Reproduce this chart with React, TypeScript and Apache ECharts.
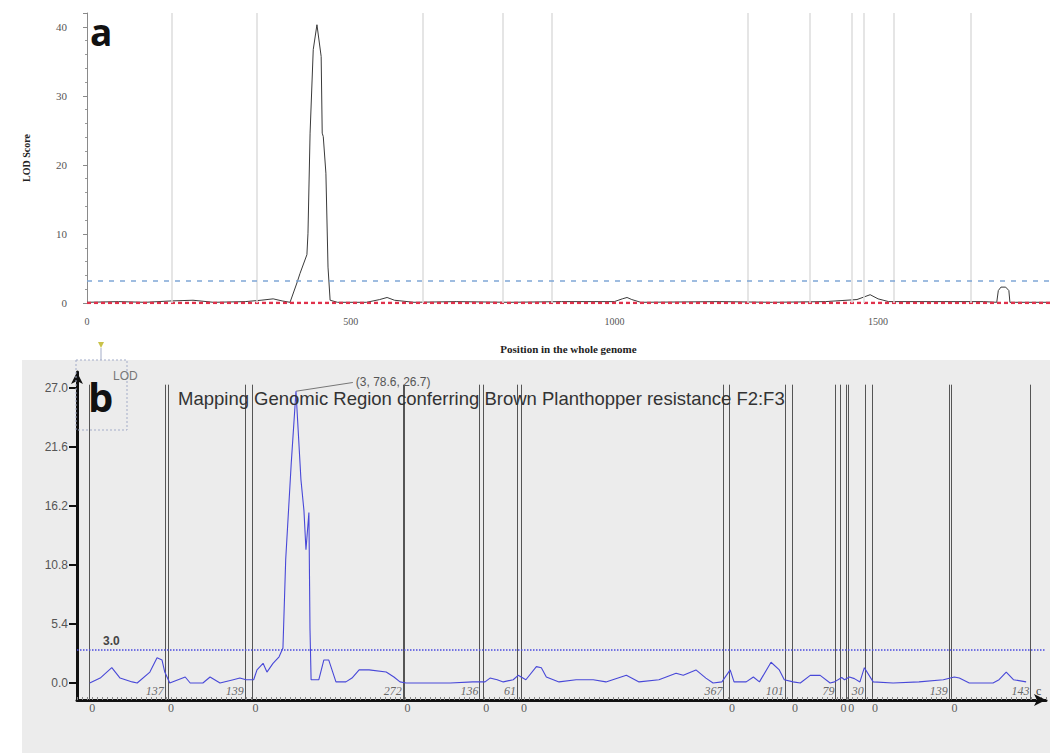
import React, { useEffect, useRef } from "react";
import * as echarts from "echarts";

// ---------- Panel a ----------
const aXTicks = [0, 500, 1000, 1500];
const aXMax = 1826;
const aYMax = 42;
const aBoundaries = [161, 322, 637, 789, 882, 1252, 1371, 1451, 1472, 1529, 1675];
const aThreshold = 3.2;
const aLodPos = [0, 60, 110, 160, 201, 240, 300, 330, 353, 370, 385, 398, 404, 417, 419, 423, 429, 436, 444, 446, 448, 453, 457, 461, 475, 530, 555, 569, 583, 620, 700, 800, 900, 1000, 1015, 1024, 1033, 1050, 1200, 1300, 1400, 1460, 1485, 1500, 1520, 1600, 1700, 1725, 1728, 1733, 1742, 1748, 1750, 1760, 1826];
const aLodVal = [0.1, 0.2, 0.1, 0.3, 0.4, 0.1, 0.2, 0.4, 0.6, 0.3, 0.1, 2.9, 4.3, 7.0, 10.1, 24.6, 36.7, 40.3, 35.7, 24.6, 24.1, 18.8, 5.2, 0.4, 0.1, 0.1, 0.5, 0.8, 0.4, 0.1, 0.2, 0.1, 0.2, 0.2, 0.6, 0.8, 0.5, 0.1, 0.2, 0.1, 0.2, 0.5, 1.2, 0.6, 0.2, 0.2, 0.2, 0.1, 1.8, 2.3, 2.3, 1.8, 0.1, 0.1, 0.1];

// ---------- Panel b ----------
const bYTicks = [0, 5.4, 10.8, 16.2, 21.6, 27.0];
const bYMin = -1.556;
const bYMax = 28.46;
const bXMax = 1755;
const chromStarts = [22, 165, 318, 593, 736, 804, 1181, 1295, 1383, 1397, 1440, 1584];
const chromLengths = [137, 139, 272, 136, 61, 367, 101, 79, 10, 30, 139, 143];
const unlabeledChrom = [8];
const bThreshold = 3.0;
const peakChrom = 3;
const peakPos = 78.6;
const peakLod = 26.7;
const bLodPos = [
  23, 42, 63, 78, 100, 109, 132, 145, 154, 159,
  168, 196, 205, 228, 241, 259, 283, 295, 306,
  320, 326, 337, 344, 355, 366, 373, 378, 388, 396.6, 405.6, 411, 414.7, 420, 422, 424, 438, 447, 456, 469, 487, 498, 511, 529, 560, 574, 585,
  596, 616, 676, 717,
  739, 748, 761, 772, 790, 799,
  813, 832, 841, 850, 873, 904, 935, 958, 995, 1018, 1054, 1085, 1098, 1121, 1139, 1152, 1168,
  1183, 1190, 1212, 1225, 1236, 1257, 1272, 1281,
  1297, 1310, 1328, 1346, 1364, 1372,
  1385, 1390,
  1399, 1408, 1418, 1426,
  1442, 1478, 1525, 1569,
  1589, 1598, 1616, 1659, 1670, 1683, 1696, 1719,
];
const bLodVal = [
  0, 0.45, 1.4, 0.45, 0.1, 0, 1.0, 2.3, 2.1, 1.0,
  0, 0.55, 0, 0, 0.55, 0, 0.3, 0.45, 0.3,
  0.3, 1.2, 1.8, 1.0, 1.8, 2.4, 3.2, 11.3, 20.1, 26.7, 18.6, 15.8, 12.2, 15.6, 4.9, 0.3, 0.3, 2.1, 2.1, 0.1, 0.1, 0.45, 1.2, 1.2, 1.0, 0.55, 0.1,
  0, 0, 0, 0.1,
  0.1, 0.45, 0.3, 0.1, 0.3, 0.7,
  0.3, 1.5, 1.4, 0.55, 0.1, 0.3, 0.3, 0.1, 0.7, 0.1, 0.3, 0.9, 0.7, 1.2, 0.45, 0, 0.1,
  1.2, 0.1, 0.1, 0.55, 0.1, 1.9, 1.2, 0.3,
  0.1, 0, 0.7, 0.7, 0, 0.1,
  0.5, 0.3,
  0.55, 0.4, 0.1, 1.4,
  0.1, 0, 0.1, 0.3,
  0.55, 0.45, 0, 0, 0.3, 1.0, 0.3, 0.1,
];

const serif = "'Liberation Serif', 'DejaVu Serif', serif";
const sans = "'Liberation Sans', Arial, sans-serif";

function buildOption(): any {
  const aData = aLodPos.map((p, i) => [p, aLodVal[i]]);
  const bData = bLodPos.map((p, i) => [p, bLodVal[i]]);
  const peakX = chromStarts[peakChrom - 1] + peakPos;

  const chromLines: any[] = [];
  chromStarts.forEach((s, i) => {
    [s, s + chromLengths[i]].forEach((x) => {
      chromLines.push([
        { coord: [x, bYMin], symbol: "none" },
        { coord: [x, 27.3], symbol: "none" },
      ]);
    });
  });

  return {
    animation: false,
    backgroundColor: "#ffffff",
    graphic: [
      {
        type: "rect",
        z: -10,
        silent: true,
        shape: { x: 22, y: 360, width: 1028, height: 393 },
        style: { fill: "#ececec" },
      },
      {
        type: "text",
        x: 90,
        y: 31,
        z: 10,
        style: { text: "a", fill: "#111", fontSize: 37, fontWeight: "bold", fontFamily: "'Open Sans', sans-serif", align: "left", verticalAlign: "middle" },
      },
      {
        type: "rect",
        z: 10,
        shape: { x: 76, y: 360, width: 51, height: 70 },
        style: { fill: "none", stroke: "#a3acc8", lineWidth: 1, lineDash: [2, 2] },
      },
      {
        type: "line",
        z: 10,
        shape: { x1: 101, y1: 348, x2: 101, y2: 360 },
        style: { stroke: "#a3acc8", lineWidth: 1 },
      },
      {
        type: "polygon",
        z: 10,
        shape: { points: [[98, 342], [104, 342], [101, 348]] },
        style: { fill: "#c9c24a" },
      },
      {
        type: "text",
        x: 113,
        y: 376,
        z: 10,
        style: { text: "LOD", fill: "#777", fontSize: 12, fontFamily: sans, align: "left", verticalAlign: "middle" },
      },
      {
        type: "text",
        x: 88,
        y: 396,
        z: 10,
        style: { text: "b", fill: "#111", fontSize: 40, fontWeight: "bold", fontFamily: "'Open Sans', sans-serif", align: "left", verticalAlign: "middle" },
      },
      {
        type: "text",
        x: 178,
        y: 398,
        z: 10,
        style: { text: "Mapping Genomic Region conferring Brown Planthopper resistance F2:F3", fill: "#333", fontSize: 18.5, fontFamily: sans, align: "left", verticalAlign: "middle" },
      },
      {
        type: "text",
        x: 1036,
        y: 691,
        z: 10,
        style: { text: "c", fill: "#444", fontSize: 12, fontFamily: serif, align: "left", verticalAlign: "middle" },
      },
    ],
    grid: [
      { left: 87, top: 13, width: 963, height: 290 },
      { left: 77, top: 372, right: 10, bottom: 53 },
    ],
    xAxis: [
      {
        type: "value",
        gridIndex: 0,
        min: 0,
        max: aXMax,
        axisLine: { show: false, onZero: false },
        axisTick: { show: false },
        splitLine: { show: false },
        axisLabel: { customValues: aXTicks, formatter: (v: number) => String(v), color: "#555", fontFamily: serif, fontSize: 10, margin: 13 },
        name: "Position in the whole genome",
        nameLocation: "middle",
        nameGap: 40,
        nameTextStyle: { color: "#222", fontFamily: serif, fontSize: 11, fontWeight: "bold" },
      },
      {
        type: "value",
        gridIndex: 1,
        min: 0,
        max: bXMax,
        interval: 9,
        axisLine: { show: true, onZero: false, symbol: ["none", "arrow"], symbolSize: [9, 12], lineStyle: { color: "#111", width: 3 } },
        axisTick: { show: true, inside: true, length: 3, lineStyle: { color: "#888", width: 1 } },
        axisLabel: { show: false },
        splitLine: { show: false },
      },
    ],
    yAxis: [
      {
        type: "value",
        gridIndex: 0,
        min: 0,
        max: aYMax,
        interval: 10,
        axisLine: { show: true, onZero: false, lineStyle: { color: "#8a8a8a", width: 1 } },
        axisTick: { show: true, length: 4, lineStyle: { color: "#8a8a8a" } },
        minorTick: { show: true, splitNumber: 5, length: 2, lineStyle: { color: "#9a9a9a" } },
        axisLabel: { showMaxLabel: false, color: "#555", fontFamily: serif, fontSize: 11, margin: 20 },
        splitLine: { show: false },
        name: "LOD Score",
        nameLocation: "middle",
        nameGap: 56,
        nameRotate: 90,
        nameTextStyle: { color: "#222", fontFamily: serif, fontSize: 10, fontWeight: "bold" },
      },
      {
        type: "value",
        gridIndex: 1,
        min: bYMin,
        max: bYMax,
        axisLine: { show: true, onZero: false, symbol: ["none", "arrow"], symbolSize: [9, 12], lineStyle: { color: "#111", width: 3 } },
        axisTick: { show: true, customValues: bYTicks, length: 8, lineStyle: { color: "#111", width: 2 } },
        axisLabel: { customValues: bYTicks, formatter: (v: number) => v.toFixed(1), color: "#555", fontFamily: sans, fontSize: 12, margin: 9 },
        splitLine: { show: false },
      },
    ],
    series: [
      {
        type: "line",
        xAxisIndex: 0,
        yAxisIndex: 0,
        data: aData,
        showSymbol: false,
        z: 3,
        lineStyle: { color: "#3a3a3a", width: 1 },
        markLine: {
          silent: true,
          symbol: "none",
          label: { show: false },
          data: [
            ...aBoundaries.map((v) => ({ xAxis: v, lineStyle: { color: "#dcdcdc", width: 1.5, type: "solid" } })),
            { yAxis: aThreshold, lineStyle: { color: "#7fa6d6", width: 1.5, type: [5, 6] } },
          ],
        },
      },
      {
        type: "line",
        xAxisIndex: 0,
        yAxisIndex: 0,
        data: [[0, 0], [aXMax, 0]],
        showSymbol: false,
        z: 4,
        lineStyle: { color: "#e0314b", width: 2.5, type: [4, 3] },
      },
      {
        type: "line",
        xAxisIndex: 1,
        yAxisIndex: 1,
        data: bData,
        showSymbol: false,
        z: 5,
        lineStyle: { color: "#4848d8", width: 1.1 },
        markLine: {
          silent: true,
          symbol: "none",
          data: [
            ...chromLines.map((pair) => [
              { ...pair[0], lineStyle: { color: "#555", width: 1, type: "solid" }, label: { show: false } },
              pair[1],
            ]),
            {
              yAxis: bThreshold,
              lineStyle: { color: "#4a4ae0", width: 1.5, type: "dotted" },
              label: { show: true, position: "insideStartTop", distance: [26, 3], formatter: bThreshold.toFixed(1), color: "#444", fontSize: 12, fontWeight: "bold", fontFamily: sans },
            },
            [
              {
                coord: [peakX, peakLod],
                lineStyle: { color: "#777", width: 1, type: "solid" },
                label: { show: true, position: "end", distance: 3, formatter: `(${peakChrom}, ${peakPos}, ${peakLod})`, color: "#555", fontSize: 12, fontFamily: sans },
              },
              { coord: [peakX + 103, peakLod + 0.8] },
            ],
          ],
        },
      },
      {
        type: "scatter",
        xAxisIndex: 1,
        yAxisIndex: 1,
        clip: false,
        symbolSize: 0.1,
        itemStyle: { color: "#333" },
        data: chromStarts.map((s) => [s, bYMin]),
        label: { show: true, position: "bottom", distance: 2, offset: [3, 0], formatter: "0", color: "#333", textBorderWidth: 0, fontFamily: serif, fontSize: 12 },
        z: 6,
      },
      {
        type: "scatter",
        xAxisIndex: 1,
        yAxisIndex: 1,
        clip: false,
        symbolSize: 0.1,
        itemStyle: { color: "#444" },
        data: chromStarts.map((s, i) => [s + chromLengths[i], bYMin, i]),
        label: {
          show: true,
          position: "left",
          distance: 1,
          offset: [0, -9],
          formatter: (p: any) => (unlabeledChrom.includes(p.value[2]) ? "" : String(chromLengths[p.value[2]])),
          color: "#444",
          textBorderWidth: 0,
          fontFamily: serif,
          fontStyle: "italic",
          fontSize: 12,
        },
        z: 6,
      },
    ],
  };
}

export default function App() {
  const ref = useRef<HTMLDivElement>(null);
  useEffect(() => {
    if (!ref.current) return;
    const chart = echarts.init(ref.current, undefined, { renderer: "svg" });
    chart.setOption(buildOption());
    return () => chart.dispose();
  }, []);
  return (
    <div
      ref={ref}
      style={{ position: "fixed", left: 0, top: 0, width: 1056, height: 753, background: "#fff" }}
    />
  );
}
